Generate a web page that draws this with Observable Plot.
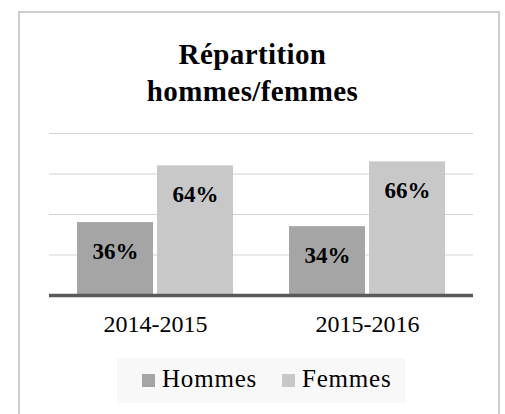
<!DOCTYPE html>
<html>
<head>
<meta charset="utf-8">
<script src="https://cdn.jsdelivr.net/npm/d3@7"></script>
<script src="https://cdn.jsdelivr.net/npm/@observablehq/plot@0.6"></script>
<style>
  html, body { margin: 0; padding: 0; background: #fff; width: 505px; height: 414px; overflow: hidden; font-family: 'Liberation Serif'; }
  #frame { position: absolute; left: 18px; top: 11px; width: 482px; height: 430px; border: 2px solid #cdcdcd; box-sizing: border-box; }
  #title { position: absolute; left: 0; top: 36px; width: 505px; text-align: center; font-family: 'Liberation Serif'; font-weight: bold; font-size: 29px; line-height: 37px; color: #000; letter-spacing: 0.4px; }
  #chart { position: absolute; left: 0; top: 120px; }
  #chart svg, #chart svg text { font-family: 'Liberation Serif'; }
  #legend { position: absolute; left: 117px; top: 358px; width: 288px; height: 45px; background: #f8f8f8; font-family: 'Liberation Serif'; font-size: 25px; color: #000; }
  .sw { position: absolute; top: 16px; width: 13px; height: 13px; }
  .lt { position: absolute; top: 6px; line-height: 30px; letter-spacing: 0.8px; }
</style>
</head>
<body>
<div id="frame"></div>
<div id="title">Répartition<br>hommes/femmes</div>
<div id="chart"></div>
<div id="legend"></div>
<script>
const years = ["2014-2015", "2015-2016"];
const series = ["Hommes", "Femmes"];
const hommes = [36, 34];
const femmes = [64, 66];
const colors = ["#a5a5a5", "#c8c8c8"];
const gridTicks = [20, 40, 60, 80];

const data = [];
years.forEach((yr, i) => {
  data.push({year: yr, sex: "Hommes", value: hommes[i]});
  data.push({year: yr, sex: "Femmes", value: femmes[i]});
});

const plot = Plot.plot({
  width: 505,
  height: 225,
  marginTop: 13,
  marginBottom: 50,
  marginLeft: 49,
  marginRight: 32,
  style: {fontFamily: "'Liberation Serif'", background: "transparent"},
  fx: {domain: years, padding: 0, label: null, axis: "bottom", tickSize: 0, tickPadding: 19, fontSize: 24},
  x: {domain: series, paddingInner: 0.02, paddingOuter: 0.32, axis: null},
  y: {domain: [0, 80], axis: null},
  color: {domain: series, range: colors},
  marks: [
    Plot.ruleY(gridTicks, {stroke: "#d4d4d4", strokeWidth: 1.2}),
    Plot.barY(data, {fx: "year", x: "sex", y: "value", fill: "sex", insetLeft: 1, insetRight: 1}),
    Plot.text(data, {fx: "year", x: "sex", y: "value", text: d => d.value + "%", dy: 29, fontWeight: "bold", fontSize: 23, fill: "#000"}),
    Plot.ruleY([0], {stroke: "#595959", strokeWidth: 3.5})
  ]
});
plot.querySelectorAll("g[aria-label='fx-axis tick label']").forEach(el => {
  el.setAttribute("font-size", "24");
  el.setAttribute("fill", "#000");
});
document.getElementById("chart").appendChild(plot);

const leg = document.getElementById("legend");
const pos = [[25, 45], [165, 185]];
series.forEach((s, i) => {
  const sw = document.createElement("div");
  sw.className = "sw";
  sw.style.left = pos[i][0] + "px";
  sw.style.background = colors[i];
  leg.appendChild(sw);
  const t = document.createElement("div");
  t.className = "lt";
  t.style.left = pos[i][1] + "px";
  t.textContent = s;
  leg.appendChild(t);
});
</script>
</body>
</html>
